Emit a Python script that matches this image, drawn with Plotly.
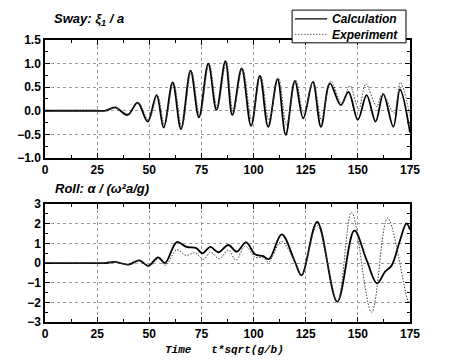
import plotly.graph_objects as go

# ---- Sway (top panel) ----
sway_calc_t = [0, 15, 25, 29, 33.6, 39.6, 44.4, 49.2, 53.5, 56.9, 61.2, 65.2, 69.8, 73.8, 78.3, 82.2,
               86.5, 89.8, 94.3, 98.8, 103.0, 107.0, 111.5, 115.4, 119.8, 123.8, 128.4, 132.3, 136.6,
               141.8, 145.5, 150.0, 154.2, 158.5, 162.2, 167.0, 170.2, 175.0]
sway_calc_v = [0, 0, 0, 0, 0.07, -0.09, 0.17, -0.23, 0.33, -0.36, 0.60, -0.39, 0.85, -0.14, 1.00, 0.02,
               1.05, -0.09, 0.90, -0.32, 0.74, -0.34, 0.67, -0.51, 0.63, -0.16, 0.61, -0.34, 0.58,
               0.12, 0.40, -0.19, 0.33, -0.23, 0.35, -0.34, 0.45, -0.46]

sway_exp_t = [0, 15, 25, 29, 34.0, 40.0, 44.8, 49.6, 53.9, 57.3, 61.6, 65.6, 70.2, 74.2, 78.7, 82.6,
              86.9, 90.2, 94.7, 99.2, 103.4, 107.4, 111.9, 115.8, 120.2, 124.0, 128.6, 132.6, 137.0,
              142.3, 146.2, 150.4, 153.8, 159.0, 161.8, 167.3, 170.4, 175.0]
sway_exp_v = [0, 0, 0, 0, 0.06, -0.07, 0.17, -0.20, 0.33, -0.30, 0.60, -0.34, 0.84, -0.10, 1.00, 0.05,
              1.04, -0.02, 0.90, -0.20, 0.75, -0.20, 0.70, -0.30, 0.65, -0.05, 0.63, -0.20, 0.63,
              0.15, 0.53, 0.04, 0.57, 0.09, 0.37, -0.05, 0.60, -0.12]

# ---- Roll (bottom panel) ----
roll_calc_t = [0, 15, 25, 29, 33.6, 40.0, 45.2, 49.5, 54.3, 57.5, 63.2, 67.8, 72.5, 75.5, 79.3, 83.1,
               87.9, 91.9, 96.4, 100.7, 104.6, 107.4, 113.5, 119.8, 123.0, 130.5, 140.1, 148.3, 154.2,
               159.2, 163.0, 166.2, 170.2, 173.3, 175.0]
roll_calc_v = [0, 0, 0, 0, 0.06, -0.08, 0.14, -0.14, 0.29, 0.0, 1.07, 0.82, 0.76, 0.50, 0.82, 0.55,
               0.92, 0.58, 1.05, 0.45, 0.35, 0.20, 1.46, 0.07, -0.62, 2.10, -1.97, 1.65, 0.15,
               -1.04, -0.45, -0.12, 1.15, 2.02, 1.70]

roll_exp_t = [0, 15, 25, 29, 34.0, 40.0, 45.5, 49.8, 54.5, 57.8, 63.2, 67.6, 71.9, 75.9, 79.4, 83.5,
              87.9, 91.5, 96.0, 100.7, 104.6, 107.2, 113.3, 119.8, 123.0, 130.5, 140.1, 147.0, 156.6,
              164.3, 174.4, 175.0]
roll_exp_v = [0, 0, 0, 0, 0.05, -0.08, 0.15, -0.17, 0.22, -0.12, 0.68, 0.39, 0.52, 0.19, 0.55, 0.22,
              0.66, 0.15, 0.86, 0.30, 0.27, 0.05, 1.10, 0.07, -0.62, 1.92, -1.97, 2.58, -2.50,
              2.29, -2.00, -1.98]

x_ticks = [0, 25, 50, 75, 100, 125, 150, 175]
sway_ticks = [-1.0, -0.5, 0.0, 0.5, 1.0, 1.5]
roll_ticks = [-3, -2, -1, 0, 1, 2, 3]
series_names = ["Calculation", "Experiment"]

CALC_STYLE = dict(color="black", width=1.8)
EXP_STYLE = dict(color="#444444", width=1.0, dash="1.5px,1.5px")

fig = go.Figure()
fig.add_trace(go.Scatter(x=sway_calc_t, y=sway_calc_v, mode="lines", name=series_names[0], showlegend=False,
                         line=dict(shape="spline", smoothing=1.0, **CALC_STYLE), xaxis="x", yaxis="y"))
fig.add_trace(go.Scatter(x=sway_exp_t, y=sway_exp_v, mode="lines", name=series_names[1], showlegend=False,
                         line=dict(shape="spline", smoothing=1.0, **EXP_STYLE), xaxis="x", yaxis="y"))
fig.add_trace(go.Scatter(x=roll_calc_t, y=roll_calc_v, mode="lines", name=series_names[0], showlegend=False,
                         line=dict(shape="spline", smoothing=1.0, **CALC_STYLE), xaxis="x2", yaxis="y2"))
fig.add_trace(go.Scatter(x=roll_exp_t, y=roll_exp_v, mode="lines", name=series_names[1], showlegend=False,
                         line=dict(shape="spline", smoothing=1.0, **EXP_STYLE), xaxis="x2", yaxis="y2"))

tickfont = dict(family="Liberation Sans, Arial, sans-serif", size=12, color="black", weight="bold")
common = dict(showline=True, linecolor="black", linewidth=1.5, mirror="allticks",
              ticks="inside", ticklen=5, tickcolor="black", tickwidth=1,
              showgrid=True, gridcolor="#9a9a9a", griddash="dot", gridwidth=1,
              zeroline=False, tickfont=tickfont)

xcommon = dict(common, range=[0, 175], tickvals=x_ticks,
               minor=dict(ticks="inside", ticklen=3, dtick=12.5, tickcolor="black", showgrid=False))

fig.update_layout(
    width=450, height=364,
    margin=dict(l=45, r=40, t=40, b=42, autoexpand=False),
    paper_bgcolor="white", plot_bgcolor="white",
    xaxis=dict(xcommon, domain=[0, 1], anchor="y"),
    yaxis=dict(common, domain=[0.582, 1], range=[-1, 1.5], tickvals=sway_ticks, tickformat=".1f",
               anchor="x",
               minor=dict(ticks="inside", ticklen=3, dtick=0.25, tickcolor="black", showgrid=False)),
    xaxis2=dict(xcommon, domain=[0, 1], anchor="y2"),
    yaxis2=dict(common, domain=[0, 0.418], range=[-3, 3], tickvals=roll_ticks, anchor="x2",
                minor=dict(ticks="inside", ticklen=3, dtick=0.5, tickcolor="black", showgrid=False)),
    showlegend=False,
)

# ---- compact legend box (drawn in paper coordinates) ----
leg_x0, leg_x1, leg_y0, leg_y1 = 0.677, 0.989, 0.990, 1.106
leg_rows = [1.075, 1.020]
leg_styles = [CALC_STYLE, EXP_STYLE]
fig.add_shape(type="rect", xref="paper", yref="paper", x0=leg_x0, x1=leg_x1, y0=leg_y0, y1=leg_y1,
              line=dict(color="black", width=1), fillcolor="white", layer="above")
for row, style in zip(leg_rows, leg_styles):
    fig.add_shape(type="line", xref="paper", yref="paper", x0=0.685, x1=0.773, y0=row, y1=row,
                  line=dict(color=style["color"], width=style["width"] * 0.8,
                            dash=style.get("dash", "solid")), layer="above")
fig.add_annotation(text="<br>".join(series_names), xref="paper", yref="paper",
                   x=0.781, y=(leg_rows[0] + leg_rows[1]) / 2, xanchor="left", yanchor="middle",
                   align="left", showarrow=False,
                   font=dict(family="Liberation Sans, Arial, sans-serif", size=12, color="black",
                             weight="bold", style="italic"))

title_font = dict(family="Liberation Sans, Arial, sans-serif", size=13, color="black",
                  weight="bold", style="italic")
fig.add_annotation(text="Sway: ξ<sub>1</sub> / a", xref="paper", yref="paper",
                   x=0.02, y=1.035, xanchor="left", yanchor="bottom", showarrow=False, font=title_font)
fig.add_annotation(text="Roll: α / (ω²a/g)", xref="paper", yref="paper",
                   x=0.022, y=0.44, xanchor="left", yanchor="bottom", showarrow=False, font=title_font)
fig.add_annotation(text="Time\u00a0\u00a0\u00a0t*sqrt(g/b)", xref="paper", yref="paper",
                   x=0.493, y=-0.1, xanchor="center", yanchor="middle", showarrow=False,
                   font=dict(family="Liberation Mono, Courier New, monospace", size=11, color="black",
                             weight="bold", style="italic"))

fig.write_html("out.html", config={"displayModeBar": False},
               post_script="document.body.style.margin='0';document.body.style.padding='0';")
